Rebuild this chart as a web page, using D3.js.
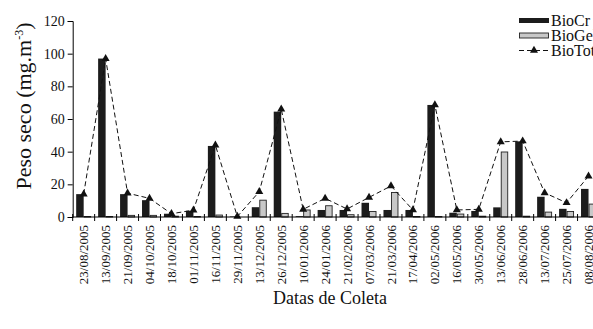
<!DOCTYPE html>
<html>
<head>
<meta charset="utf-8">
<script src="https://cdn.jsdelivr.net/npm/d3@7"></script>
<style>
  html, body { margin: 0; padding: 0; background: #fff; overflow: hidden; }
  svg { display: block; }
  svg text { font-family: "Liberation Serif", "DejaVu Serif", serif; }
</style>
</head>
<body>
<svg id="chart" width="593" height="329"></svg>
<script>
// Sampling dates
const dates = ["23/08/2005","13/09/2005","21/09/2005","04/10/2005","18/10/2005","01/11/2005",
  "16/11/2005","29/11/2005","13/12/2005","26/12/2005","10/01/2006","24/01/2006",
  "21/02/2006","07/03/2006","21/03/2006","17/04/2006","02/05/2006","16/05/2006",
  "30/05/2006","13/06/2006","28/06/2006","13/07/2006","25/07/2006","08/08/2006"];

// Dry weight (mg.m-3) per group
const bioCr  = [14, 97, 14, 10.3, 2, 3.8, 43.5, 0.3, 6, 64.5, 0.5, 4.3,
                4.3, 8.7, 4.3, 4.3, 68.6, 2.6, 3.7, 5.9, 46.3, 12.4, 5, 17.2];
const bioGe  = [0.3, 0.3, 1, 1, 0.5, 0.3, 1.2, 0, 10.3, 2.2, 4.3, 6.9,
                1.4, 3.4, 15, 0.3, 0.3, 1.8, 0.5, 39.8, 0.5, 3, 3.4, 7.9];
const bioTot = [14, 97, 14.6, 11.4, 2, 4.2, 44, 0.3, 15.5, 66, 4.7, 11.4,
                4.9, 12, 19, 4.3, 68.6, 4.3, 4.7, 46, 46.5, 14.8, 8.7, 25];

const yTicks = [0, 20, 40, 60, 80, 100, 120];
const seriesNames = ["BioCr", "BioGel", "BioTotal"];

const FONT = "Liberation Serif, DejaVu Serif, serif";
const svg = d3.select("#chart");
const plotLeft = 72.7, plotRight = 599.5, plotTop = 21, plotBottom = 217;

const x = d3.scaleBand().domain(dates).range([plotLeft, plotRight]).padding(0);
const bw = x.bandwidth();
const xSub = d3.scaleBand().domain(["cr", "ge"]).range([bw / 2 - 7.5, bw / 2 + 7.5]).padding(0);
const y = d3.scaleLinear().domain([0, 120]).range([plotBottom, plotTop]);

// Bars
const g = svg.append("g");
g.selectAll("rect.cr").data(dates).join("rect")
  .attr("class", "cr")
  .attr("x", d => x(d) + xSub("cr"))
  .attr("y", (d, i) => y(bioCr[i]))
  .attr("width", xSub.bandwidth())
  .attr("height", (d, i) => y(0) - y(bioCr[i]))
  .attr("fill", "#1c1c1c");

g.selectAll("rect.ge").data(dates).join("rect")
  .attr("class", "ge")
  .attr("x", d => x(d) + xSub("ge") + 0.5)
  .attr("y", (d, i) => y(bioGe[i]))
  .attr("width", xSub.bandwidth() - 1)
  .attr("height", (d, i) => y(0) - y(bioGe[i]))
  .attr("fill", "#c8c8c8")
  .attr("stroke", "#222")
  .attr("stroke-width", 0.9);

// Total line with triangles
const cx = d => x(d) + bw / 2;
const line = d3.line().x((d, i) => cx(dates[i])).y(d => y(d));
svg.append("path").datum(bioTot)
  .attr("d", line)
  .attr("fill", "none")
  .attr("stroke", "#111")
  .attr("stroke-width", 1)
  .attr("stroke-dasharray", "5,3");

const tri = d3.symbol().type(d3.symbolTriangle).size(28);
svg.selectAll("path.tri").data(bioTot).join("path")
  .attr("class", "tri")
  .attr("d", tri)
  .attr("transform", (d, i) => `translate(${cx(dates[i])},${y(d)})`)
  .attr("fill", "#111");

// Y axis
const yAxis = d3.axisLeft(y).tickValues(yTicks).tickSize(5).tickPadding(3);
const ya = svg.append("g").attr("transform", `translate(${plotLeft},0)`).call(yAxis)
  .attr("font-family", FONT);
ya.select(".domain").attr("stroke", "#000");
ya.selectAll(".tick line").attr("stroke", "#000");
ya.selectAll(".tick text").attr("font-size", 14).attr("fill", "#111");

// X axis: ticks on category boundaries
svg.append("line").attr("x1", plotLeft).attr("x2", plotRight).attr("y1", plotBottom).attr("y2", plotBottom)
  .attr("stroke", "#000");
const bounds = dates.map(d => x(d)).concat([plotRight]);
svg.selectAll("line.xt").data(bounds).join("line")
  .attr("class", "xt")
  .attr("x1", d => d).attr("x2", d => d)
  .attr("y1", plotBottom - 3).attr("y2", plotBottom + 4)
  .attr("stroke", "#000");

svg.selectAll("text.xl").data(dates).join("text")
  .attr("class", "xl")
  .attr("transform", d => `translate(${cx(d)},${plotBottom + 8}) rotate(-90)`)
  .attr("text-anchor", "end")
  .attr("dy", "0.35em")
  .attr("font-family", FONT)
  .attr("font-size", 13)
  .attr("fill", "#111")
  .text(d => d);

// Axis titles
svg.append("text")
  .attr("x", 330).attr("y", 304)
  .attr("text-anchor", "middle")
  .attr("font-family", FONT)
  .attr("font-size", 18)
  .attr("fill", "#111")
  .text("Datas de Coleta");

const yt = svg.append("text")
  .attr("transform", "translate(31,106) rotate(-90)")
  .attr("text-anchor", "middle")
  .attr("font-family", FONT)
  .attr("font-size", 22)
  .attr("fill", "#111");
yt.append("tspan").text("Peso seco (mg.m");
yt.append("tspan").attr("font-size", 12).attr("dy", -8).text("-3");
yt.append("tspan").attr("dy", 8).text(")");

// Legend
const lg = svg.append("g");
const lx = 519, lw = 30, rows = [20.5, 35.5, 50.5];
lg.append("rect").attr("x", lx).attr("y", rows[0] - 2.5).attr("width", lw).attr("height", 5).attr("fill", "#1c1c1c");
lg.append("rect").attr("x", lx + 0.5).attr("y", rows[1] - 2.5).attr("width", lw - 1).attr("height", 5)
  .attr("fill", "#c8c8c8").attr("stroke", "#222").attr("stroke-width", 0.9);
lg.append("line").attr("x1", lx).attr("x2", lx + lw).attr("y1", rows[2]).attr("y2", rows[2])
  .attr("stroke", "#111").attr("stroke-dasharray", "5,3");
lg.append("path").attr("d", tri).attr("transform", `translate(${lx + lw / 2},${rows[2]})`).attr("fill", "#111");
lg.selectAll("text").data(seriesNames).join("text")
  .attr("x", lx + lw + 2)
  .attr("y", (d, i) => rows[i])
  .attr("dy", "0.33em")
  .attr("font-family", FONT)
  .attr("font-size", 16)
  .attr("fill", "#111")
  .text(d => d);
</script>
</body>
</html>
